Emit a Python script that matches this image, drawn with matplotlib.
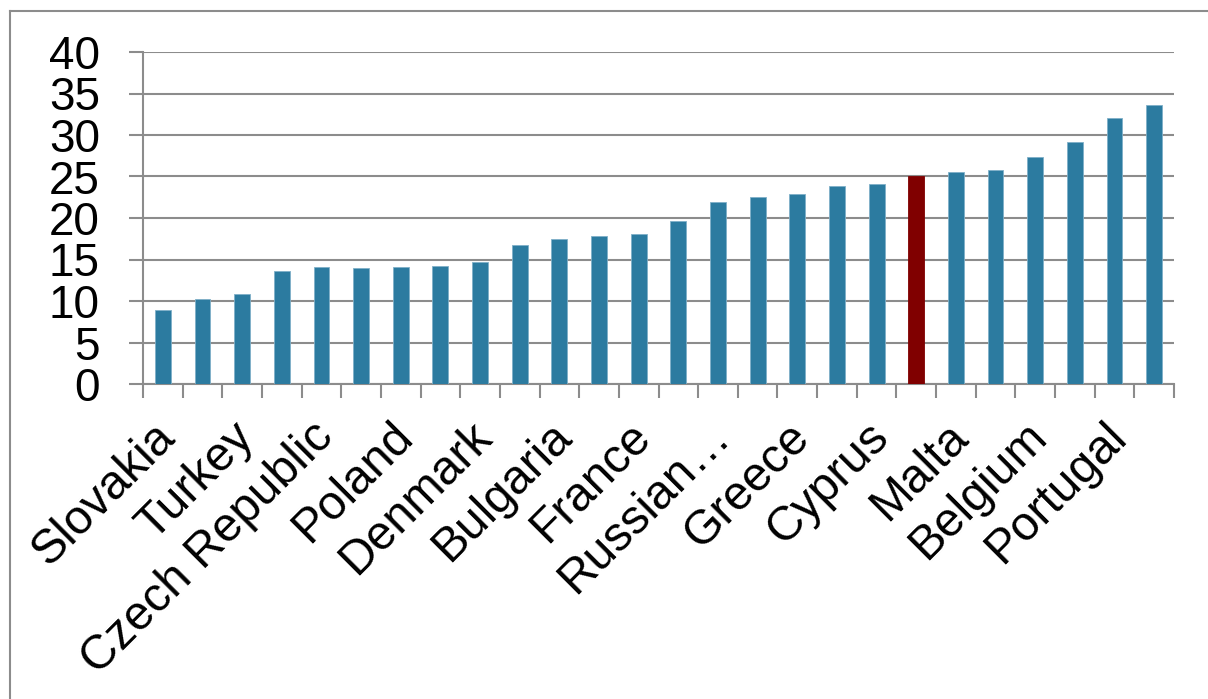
import matplotlib
matplotlib.use("Agg")
import matplotlib.pyplot as plt
from matplotlib.lines import Line2D
from matplotlib.transforms import ScaledTranslation

categories = ["Slovakia", "", "Turkey", "", "Czech Republic", "", "Poland", "",
              "Denmark", "", "Bulgaria", "", "France", "", "Russian…", "",
              "Greece", "", "Cyprus", "", "Malta", "", "Belgium", "", "Portugal", ""]
values = [8.9, 10.2, 10.8, 13.6, 14.05, 14.0, 14.1, 14.2, 14.7, 16.8, 17.5, 17.8, 18.1,
          19.6, 21.9, 22.5, 22.9, 23.8, 24.1, 25.0, 25.5, 25.75, 27.3, 29.2, 32.0, 33.6]
highlight_index = 19
yticks = [0, 5, 10, 15, 20, 25, 30, 35, 40]

BLUE = "#2C7BA0"
RED = "#800000"
GRID = "#8C8C8C"

plt.rcParams['font.family'] = ['Liberation Sans', 'DejaVu Sans']

W, H = 1208, 699
fig = plt.figure(figsize=(W / 100, H / 100), dpi=100)
ax = fig.add_axes([143 / W, 1 - 384 / H, (1174 - 143) / W, (384 - 52) / H])

x = list(range(len(values)))
colors = [RED if i == highlight_index else BLUE for i in x]
edges = [c if i == highlight_index else "#7FB0C8" for i, c in enumerate(colors)]
ax.bar(x, values, width=0.4, color=colors, edgecolor=edges, linewidth=0.6, zorder=3)

ax.set_xlim(-0.5, len(values) - 0.5)
ax.set_ylim(0, 40)
ax.set_yticks(yticks)
ax.set_yticklabels([str(v) for v in yticks], fontsize=33)
ax.yaxis.grid(True, color=GRID, linewidth=1.5, zorder=0)
ax.set_axisbelow(True)

ax.set_xticks(x)
ax.set_xticklabels(categories, fontsize=34.5, rotation=45, ha='right', va='center',
                   rotation_mode='anchor')
ax.set_xticks([i - 0.5 for i in range(len(values) + 1)], minor=True)
ax.tick_params(axis='x', which='major', length=0, pad=31)
ax.tick_params(axis='x', which='minor', length=10, width=1.5, color=GRID, direction='out')
ax.tick_params(axis='y', which='major', length=10, width=1.5, color=GRID, direction='out', pad=21)
shift = ScaledTranslation(5 / 100, -3 / 100, fig.dpi_scale_trans)
for lab in ax.get_xticklabels():
    lab.set_transform(lab.get_transform() + shift)

for s in ['top', 'right']:
    ax.spines[s].set_visible(False)
for s in ['left', 'bottom']:
    ax.spines[s].set_color(GRID)
    ax.spines[s].set_linewidth(1.5)

# chart-area border
fig.add_artist(Line2D([9.5 / W, 9.5 / W], [0, 1 - 11 / H], transform=fig.transFigure, color="#8C8C8C", linewidth=1.5))
fig.add_artist(Line2D([9.5 / W, 1], [1 - 11 / H, 1 - 11 / H], transform=fig.transFigure, color="#8C8C8C", linewidth=1.5))

fig.savefig("out.png", dpi=100)
